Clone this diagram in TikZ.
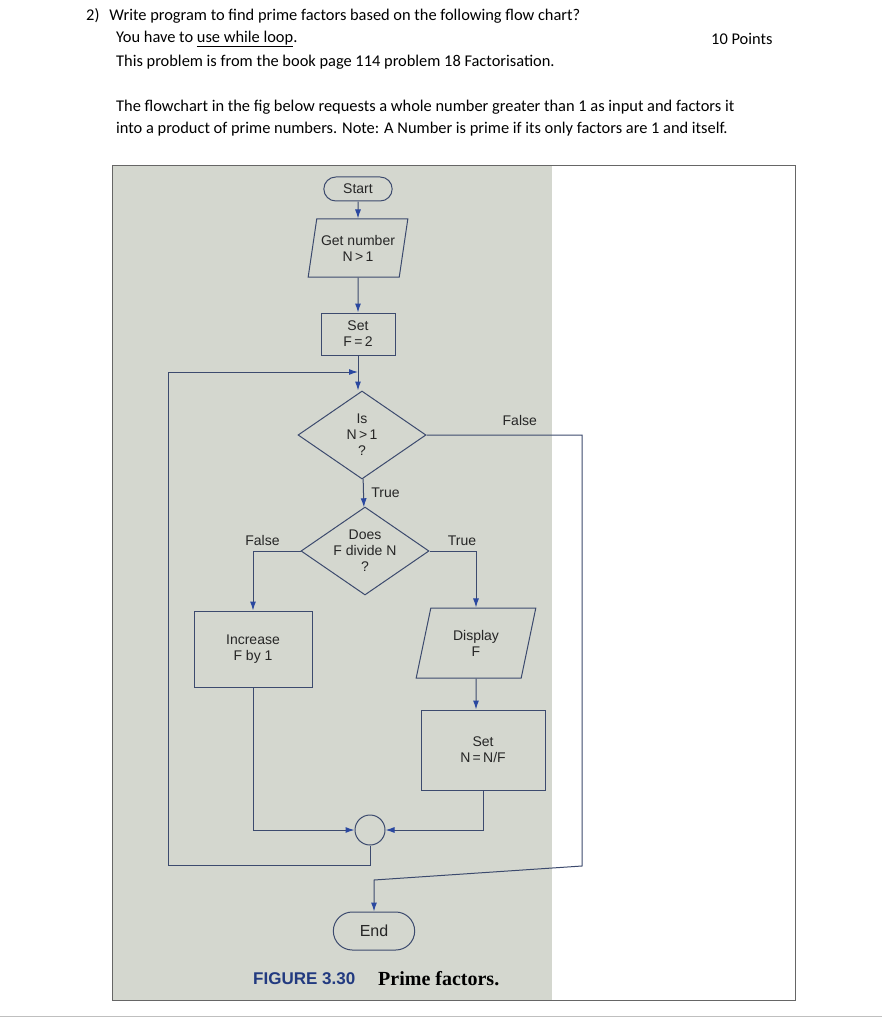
\documentclass[tikz,border=0pt]{standalone}
\usepackage{fontspec}
\setmainfont{Carlito}
\newfontfamily\hv{Liberation Sans}
\newfontfamily\sr{Liberation Serif}
\usetikzlibrary{shapes.geometric,shapes.misc,arrows.meta}
\definecolor{bg}{HTML}{D4D7CF}
\definecolor{ln}{HTML}{3C4A6E}
\definecolor{ah}{HTML}{2A48A0}
\begin{document}
\begin{tikzpicture}[x=1pt,y=-1pt,
  txt/.style={anchor=west,inner sep=0,font=\fontsize{16.4}{18}\selectfont},
  fc/.style={draw=ln,line width=1pt,fill=bg,font=\hv\fontsize{14}{16}\selectfont,align=center,text=black!85},
  box/.style={fc,rectangle,minimum width=#1},
  term/.style={fc,rounded rectangle,minimum width=75pt,minimum height=24pt},
  dia/.style={fc,diamond,minimum width=128pt,minimum height=88pt,inner sep=-6pt},
  para/.style={fc,trapezium,trapezium left angle=75,trapezium right angle=105,inner sep=2pt,trapezium stretches=true},
  ar/.style={draw=ln,line width=1pt,-{Latex[length=9pt,width=6pt,color=ah]}},
  li/.style={draw=ln,line width=1pt},
  lab/.style={font=\hv\fontsize{14}{16}\selectfont,text=black!85}]
\useasboundingbox (0,0) rectangle (882,1024);
\fill[white] (0,0) rectangle (882,1024);
% header
\node[txt] (h1) at (86,16) {2)\hspace{10pt}Write program to find prime factors based on the following flow chart?};
\node[txt] (h2) at (116,39) {You have to \underline{use while loop}.};
\node[txt] (h3) at (711,39) {10 Points};
\node[txt] (h4) at (116,62) {This problem is from the book page 114 problem 18 Factorisation.};
\node[txt] (p1) at (116,107) {The flowchart in the fig below requests a whole number greater than 1 as input and factors it};
\node[txt] (p2) at (116,129) {into a product of prime numbers. Note: A Number is prime if its only factors are 1 and itself.};
% photo
\fill[bg] (113,166) rectangle (552,1000);
\draw[black!60,line width=0.8pt] (112,165) rectangle (795,1000);
\draw[black!25,line width=1pt] (0,1016) -- (882,1016);
% flowchart
\node[term] (start) at (358,189) {Start};
\node[para,minimum width=100pt,minimum height=58pt] (get) at (358,248) {Get number\\N\,>\,1};
\node[box=74pt,minimum height=42pt] (setf) at (358,334) {Set\\F\,=\,2};
\node[dia] (d1) at (362,435) {Is\\N\,>\,1\\?};
\node[dia] (d2) at (365,551) {Does\\F divide N\\?};
\node[box=118pt,minimum height=76pt] (inc) at (253,649) {Increase\\F by 1};
\node[para,minimum width=120pt,minimum height=70pt] (disp) at (476,643) {Display\\F};
\node[box=124pt,minimum height=80pt] (setn) at (483,750) {Set\\N\,=\,N/F};
\node[circle,draw=ln,line width=1pt,fill=bg,minimum size=30pt,inner sep=0] (j) at (370,830) {};
\node[term,minimum width=88pt,minimum height=38pt,font=\hv\fontsize{16}{18}\selectfont] (end) at (374,931) {End};
\coordinate (top) at (358,372);
\draw[ar] (start) -- (get);
\draw[ar] (get) -- (setf);
\draw[li] (setf) -- (top);
\draw[ar] (top) -- (top|-d1.north);
\draw[ar] (d1) -- node[lab,right=4pt]{True} (d2);
\draw[ar] (d2.west) -| node[lab,pos=0.4,above=2pt]{False} (inc.north);
\draw[ar] (d2.east) -| node[lab,pos=0.35,above=2pt]{True} (disp.north);
\draw[ar] (disp) -- (disp|-setn.north);
\draw[ar] (inc.south) |- (j);
\draw[ar] (setn.south) |- (j);
\draw[ar] (j.south) -- (370,865) -- (168,865) -- (168,372) -- (top);
\coordinate (fr) at (582,435);
\draw[ar] (d1.east) -- node[lab,above=6pt,pos=0.6]{False} (fr) -- (582,866) -- (374,880) -- (end);
% caption
\node[inner sep=0,anchor=west,font=\hv\bfseries\fontsize{17}{19}\selectfont,text=ah!80!black] (fig) at (253,979) {FIGURE 3.30};
\node[inner sep=0,anchor=west,font=\sr\bfseries\fontsize{20}{22}\selectfont] (cap) at (378,979) {Prime factors.};
\end{tikzpicture}
\end{document}
